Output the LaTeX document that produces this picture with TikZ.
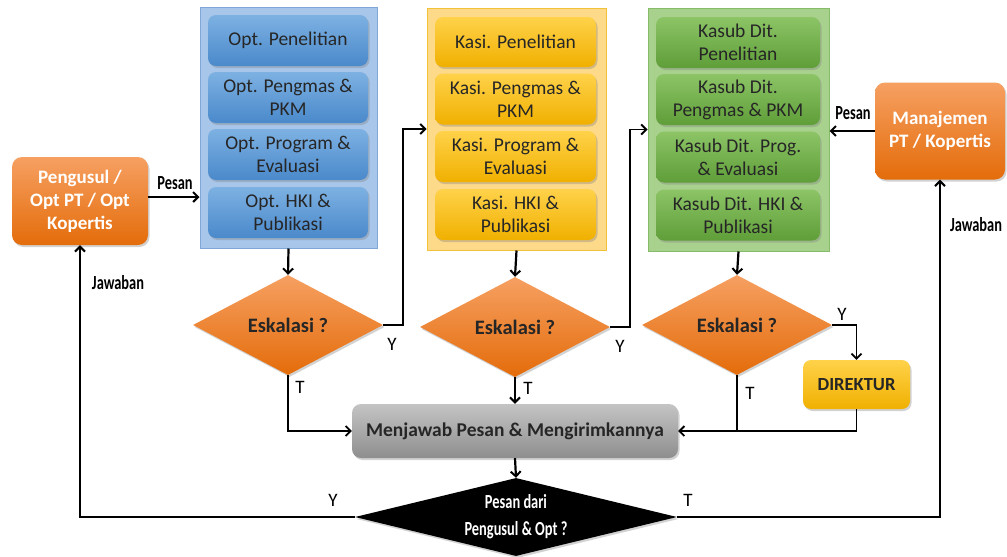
\documentclass[tikz,border=0pt]{standalone}
\usepackage{fontspec}
\setmainfont{Carlito}
\newfontfamily\condfont[FakeStretch=0.72]{Carlito}
\usetikzlibrary{shapes.geometric,arrows.meta,shadows}
\definecolor{orT}{HTML}{F6A062}
\definecolor{orB}{HTML}{E46C0A}
\definecolor{bluC}{HTML}{A7C6E9}
\definecolor{bluCb}{HTML}{7FA8D9}
\definecolor{bluT}{HTML}{7DB1E2}
\definecolor{bluB}{HTML}{4A89CB}
\definecolor{yelC}{HTML}{FDD98A}
\definecolor{yelCb}{HTML}{F2C13A}
\definecolor{yelT}{HTML}{FFD24A}
\definecolor{yelB}{HTML}{F0B000}
\definecolor{grnC}{HTML}{A9D18E}
\definecolor{grnCb}{HTML}{86BB68}
\definecolor{grnT}{HTML}{8CC466}
\definecolor{grnB}{HTML}{5F9E39}
\definecolor{gryT}{HTML}{C4C4C4}
\definecolor{gryB}{HTML}{8E8E8E}
\definecolor{txt}{HTML}{262626}
\tikzset{
  shd/.style={drop shadow={opacity=0.35,shadow xshift=1.5pt,shadow yshift=-2pt}},
  orbox/.style={rounded corners=10pt,top color=orT,bottom color=orB,shd,text=white,
    font=\fontsize{19}{23}\selectfont\bfseries,align=center,inner sep=0pt},
  cont/.style={draw=#1Cb,fill=#1C,line width=1pt,inner sep=0pt},
  inbox/.style={rounded corners=8pt,top color=#1T,bottom color=#1B,shd,text=txt,
    font=\fontsize{19.5}{23}\selectfont,align=center,inner sep=0pt},
  dia/.style={diamond,shape aspect=1.9,inner sep=0pt,top color=orT,bottom color=orB,shd,
    text=txt,font=\fontsize{20.5}{24}\selectfont\bfseries,minimum width=190pt,minimum height=100pt},
  arr/.style={line width=2.2pt,-{Straight Barb[length=5pt,width=10pt,line width=2pt]}},
  ln/.style={line width=1.8pt},
  lnarr/.style={line width=1.8pt,-{Straight Barb[length=5pt,width=10pt,line width=1.8pt]}},
  lbl/.style={font=\condfont\fontsize{20}{22}\selectfont\bfseries,inner sep=0pt},
  yt/.style={font=\fontsize{19}{22}\selectfont,inner sep=0pt},
}
\begin{document}
\begin{tikzpicture}[x=1pt,y=-1pt]
\useasboundingbox[fill=white] (0,0) rectangle (1007,557);
% left and right boxes
\node[orbox,minimum width=136pt,minimum height=88pt] (left) at (80,201) {Pengusul /\\Opt PT / Opt\\Kopertis};
\node[orbox,minimum width=130pt,minimum height=97pt] (right) at (940,131) {Manajemen\\PT / Kopertis};
% containers
\node[cont=blu,minimum width=177pt,minimum height=241pt] (blue) at (288.5,127.5) {};
\node[cont=yel,minimum width=179pt,minimum height=242pt] (yellow) at (516.5,129) {};
\node[cont=grn,minimum width=181pt,minimum height=243pt] (green) at (738.5,129.5) {};
% blue inner
\node[inbox=blu,minimum width=160pt,minimum height=51pt] (b1) at (288,40.5) {Opt. Penelitian};
\node[inbox=blu,minimum width=160pt,minimum height=51pt] (b2) at (288,97.5) {Opt. Pengmas \&\\PKM};
\node[inbox=blu,minimum width=160pt,minimum height=51pt] (b3) at (288,154.5) {Opt. Program \&\\Evaluasi};
\node[inbox=blu,minimum width=160pt,minimum height=51pt] (b4) at (288,212.5) {Opt. HKI \&\\Publikasi};
% yellow inner
\node[inbox=yel,minimum width=161pt,minimum height=50pt] (y1) at (515.5,42) {Kasi. Penelitian};
\node[inbox=yel,minimum width=161pt,minimum height=51pt] (y2) at (515.5,99) {Kasi. Pengmas \&\\PKM};
\node[inbox=yel,minimum width=161pt,minimum height=51pt] (y3) at (515.5,156.5) {Kasi. Program \&\\Evaluasi};
\node[inbox=yel,minimum width=161pt,minimum height=51pt] (y4) at (515.5,214.5) {Kasi. HKI \&\\Publikasi};
% green inner
\node[inbox=grn,minimum width=164pt,minimum height=51pt] (g1) at (738,42.5) {Kasub Dit.\\Penelitian};
\node[inbox=grn,minimum width=164pt,minimum height=51pt] (g2) at (738,99.5) {Kasub Dit.\\Pengmas \& PKM};
\node[inbox=grn,minimum width=164pt,minimum height=51pt] (g3) at (738,157) {Kasub Dit. Prog.\\\& Evaluasi};
\node[inbox=grn,minimum width=164pt,minimum height=51pt] (g4) at (738,215) {Kasub Dit. HKI \&\\Publikasi};
% diamonds
\node[dia] (d1) at (288,325) {Eskalasi ?};
\node[dia] (d2) at (515,327) {Eskalasi ?};
\node[dia] (d3) at (737,325) {Eskalasi ?};
% direktur and grey
\node[rounded corners=8pt,top color=yelT,bottom color=yelB,shd,text=txt,font=\fontsize{18.5}{22}\selectfont\bfseries,
  minimum width=107pt,minimum height=49pt,inner sep=0pt] (dir) at (856.5,384.5) {DIREKTUR};
\node[rounded corners=9pt,top color=gryT,bottom color=gryB,shd,text=txt,font=\fontsize{19.5}{22}\selectfont\bfseries,
  minimum width=326pt,minimum height=54pt,inner sep=0pt] (grey) at (515,431) {Menjawab Pesan \& Mengirimkannya};
\node[diamond,shape aspect=4.1,fill=black,shd,text=white,inner sep=0pt,minimum width=322pt,minimum height=78pt,
  align=center,font=\condfont\fontsize{20}{27}\selectfont\bfseries] (bd) at (516,517) {Pesan dari\\Pengusul \& Opt ?};
% connectors
\draw[arr] (left.east |- 0,197) -- (blue.west |- 0,197);
\draw[arr] (right.west) -- (right.west -| green.east);
\draw[arr] (blue.south) -- (d1.north);
\draw[arr] (yellow.south) -- (d2.north);
\draw[arr] (green.south) -- (d3.north);
\draw[lnarr] (d1.east) -- ++(20,0) |- (yellow.west);
\draw[lnarr] (d2.east) -- ++(20,0) |- (green.west);
\draw[lnarr] (d3.east) -| (dir.north);
\draw[lnarr] (d1.south) |- (grey.west);
\draw[arr] (d2.south) -- (grey.north);
\draw[ln] (d3.south) -- (d3.south |- grey.east);
\draw[lnarr] (dir.south) |- (grey.east);
\draw[arr] (grey.south) -- (bd.north);
\draw[arr] (bd.west) -| (left.south);
\draw[arr] (bd.east) -| (right.south);
% labels
\node[lbl] (l1) at (175,183) {Pesan};
\node[lbl] (l2) at (118,283) {Jawaban};
\node[lbl] (l3) at (853,113) {Pesan};
\node[lbl] (l4) at (976,225) {Jawaban};
\node[yt] (ya) at (392,344) {Y};
\node[yt] (yb) at (620,346) {Y};
\node[yt] (yc) at (842,314) {Y};
\node[yt] (ta) at (300,387) {T};
\node[yt] (tb) at (528,388) {T};
\node[yt] (tc) at (750,393) {T};
\node[yt] (yd) at (333,500) {Y};
\node[yt] (td) at (688,500) {T};
\end{tikzpicture}
\end{document}
